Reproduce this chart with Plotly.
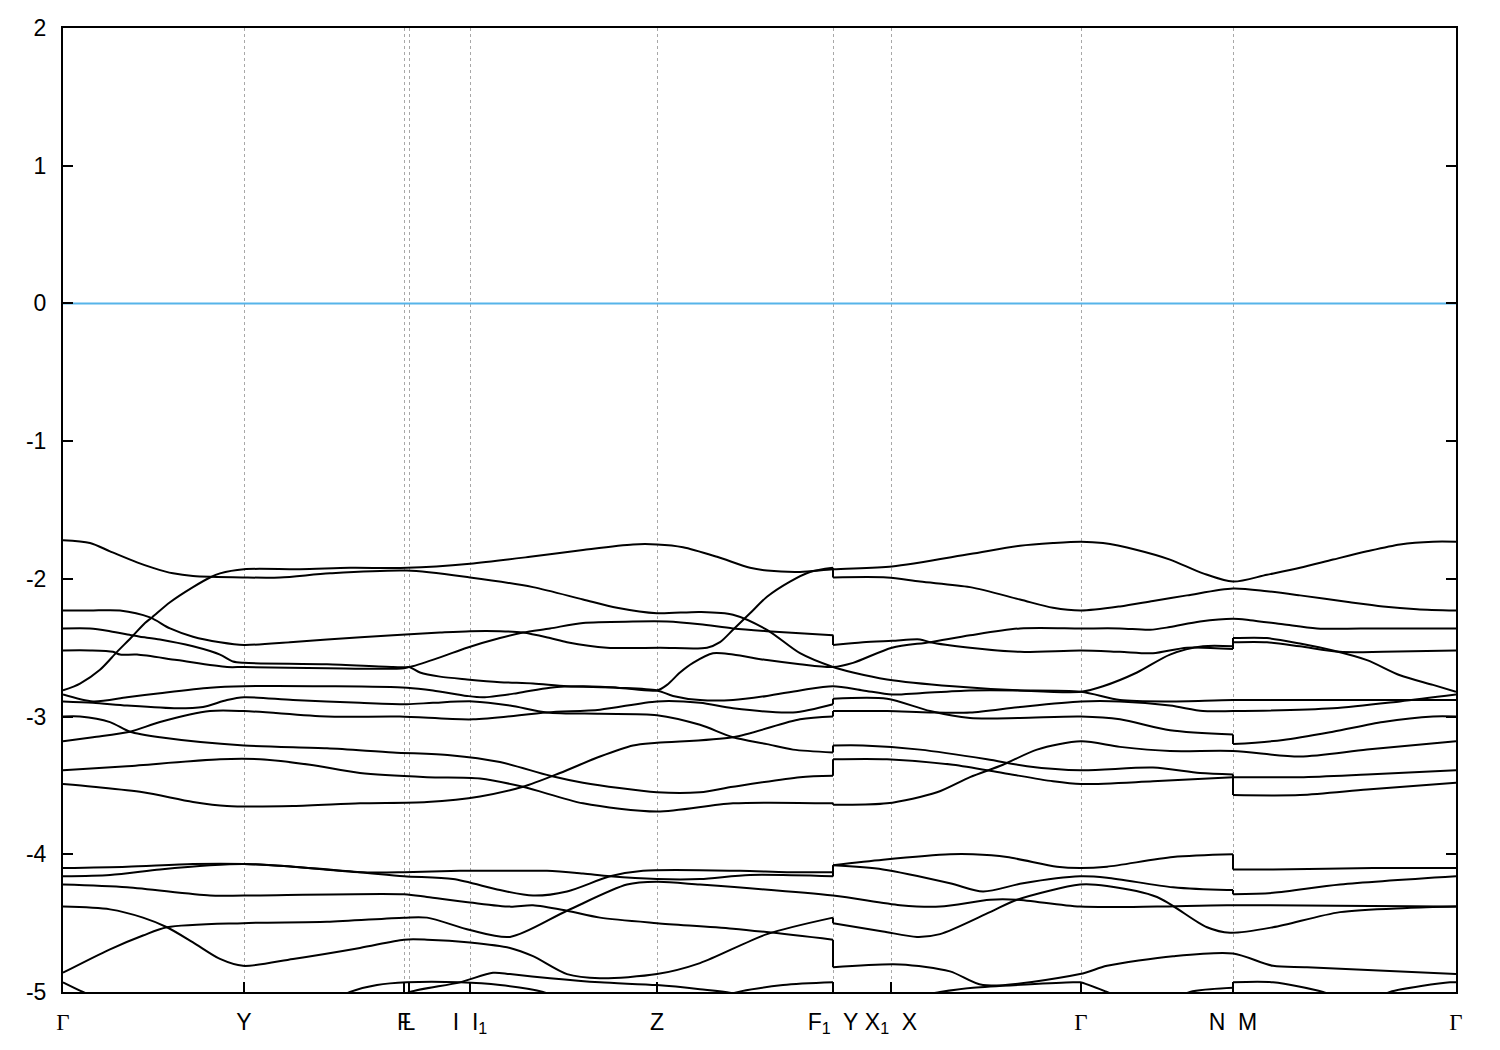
import plotly.graph_objects as go

# ---------------- k-path ticks ----------------
K_TICKS = [0.0, 1.81, 3.41, 3.46, 4.07, 5.94, 7.70, 8.28, 10.18, 11.70, 13.93]
GAMMA = '<span style="font-family:Liberation Serif">Γ</span>'
K_LABELS = [GAMMA, "Y", "F", "L", "I  I<sub>1</sub>", "Z", "F<sub>1</sub>  Y",
            "X<sub>1</sub>  X", GAMMA, "N  M", GAMMA]
E_TICKS = [-5, -4, -3, -2, -1, 0, 1, 2]
E_LABELS = ["-5", "-4", "-3", "-2", "-1", "0", "1", "2"]
FERMI = 0.0

# ---------------- bands (k, E in eV) ----------------
UA_K = [0, 0.27, 0.47, 0.74, 0.90, 1.10, 1.30, 1.81, 2.17, 2.67, 3.44, 4.07, 4.70, 5.20, 5.54, 5.94, 6.37, 6.70, 7.04, 7.37,
        7.70, 7.90, 8.24, 8.90, 9.57, 10.18, 10.40, 10.74, 11.07, 11.40, 11.70, 11.70, 12.04, 12.37, 12.70, 13.04, 13.37, 13.70, 13.93]
UA_E = [-1.72, -1.74, -1.80, -1.88, -1.92, -1.96, -1.98, -1.99, -1.99, -1.96, -1.94, -1.99, -2.06, -2.15, -2.21, -2.25, -2.24, -2.26, -2.37, -2.54,
        -2.64, -2.68, -2.73, -2.78, -2.81, -2.82, -2.78, -2.68, -2.55, -2.49, -2.49, -2.43, -2.43, -2.47, -2.52, -2.59, -2.70, -2.77, -2.82]

S_K = [0, 0.17, 0.37, 0.54, 0.69, 0.82, 0.89, 1.07, 1.30, 1.47, 1.57, 1.81, 2.37, 2.87, 3.44, 4.07, 4.67, 5.20, 5.70, 5.94,
       6.20, 6.54, 6.87, 7.04, 7.37, 7.70, 8.29, 9.07, 9.57, 9.90, 10.18, 10.40, 10.74, 11.07, 11.40, 11.70, 12.04, 12.37, 12.70, 13.04,
       13.37, 13.70, 13.93]
S_E = [-2.81, -2.76, -2.66, -2.53, -2.42, -2.32, -2.28, -2.17, -2.06, -1.99, -1.96, -1.93, -1.93, -1.92, -1.92, -1.89, -1.84, -1.79, -1.75, -1.75,
       -1.77, -1.84, -1.92, -1.94, -1.95, -1.93, -1.91, -1.82, -1.76, -1.74, -1.73, -1.74, -1.79, -1.86, -1.96, -2.02, -1.97, -1.92, -1.86, -1.80,
       -1.75, -1.73, -1.73]

U2_K = [0, 0.27, 0.57, 0.87, 1.07, 1.30, 1.57, 1.81, 2.27, 2.64, 3.30, 3.77, 4.07, 4.37, 4.60, 4.87, 5.04, 5.44, 5.97, 6.44,
        6.57, 6.70, 6.87, 7.04, 7.27, 7.47, 7.70, 7.70, 8.24, 8.57, 9.07, 9.57, 9.90, 10.18, 10.57, 10.90, 11.24, 11.70, 12.04, 12.37,
        12.87, 13.20, 13.54, 13.93]
U2_E = [-2.23, -2.23, -2.23, -2.28, -2.36, -2.42, -2.46, -2.48, -2.46, -2.44, -2.41, -2.39, -2.38, -2.38, -2.39, -2.43, -2.46, -2.50, -2.50, -2.50,
        -2.46, -2.37, -2.25, -2.13, -2.02, -1.95, -1.92, -1.99, -1.99, -2.02, -2.06, -2.15, -2.21, -2.23, -2.20, -2.16, -2.12, -2.07, -2.09, -2.12,
        -2.17, -2.20, -2.22, -2.23]

U3_K = [0, 0.27, 0.47, 0.69, 0.77, 0.97, 1.30, 1.57, 1.70, 1.81, 2.64, 3.30, 3.46, 3.77, 4.04, 4.37, 4.60, 4.87, 5.20, 5.70,
        6.04, 6.37, 6.70, 7.04, 7.70, 7.70, 8.00, 8.29, 8.57, 8.67, 9.07, 9.57, 10.18, 10.57, 10.90, 11.24, 11.70, 11.70, 12.04, 12.37,
        12.77, 13.20, 13.93]
U3_E = [-2.36, -2.36, -2.38, -2.41, -2.42, -2.44, -2.49, -2.55, -2.60, -2.61, -2.62, -2.64, -2.64, -2.57, -2.50, -2.43, -2.39, -2.36, -2.32, -2.31,
        -2.31, -2.33, -2.36, -2.38, -2.41, -2.48, -2.46, -2.45, -2.44, -2.46, -2.50, -2.53, -2.52, -2.53, -2.54, -2.50, -2.51, -2.46, -2.46, -2.49,
        -2.53, -2.53, -2.52]

U4_K = [0, 0.27, 0.50, 0.57, 0.74, 1.14, 1.64, 1.81, 2.64, 3.41, 3.46, 3.57, 3.77, 4.04, 4.37, 4.70, 5.04, 5.54, 5.94, 6.04,
        6.17, 6.30, 6.50, 6.70, 7.04, 7.37, 7.70, 7.90, 8.29, 8.67, 9.07, 9.57, 10.18, 10.57, 10.87, 11.07, 11.37, 11.70, 11.87, 12.20,
        12.54, 13.17, 13.93]
U4_E = [-2.52, -2.52, -2.53, -2.55, -2.55, -2.59, -2.64, -2.64, -2.65, -2.65, -2.64, -2.68, -2.71, -2.73, -2.75, -2.76, -2.78, -2.79, -2.81, -2.77,
        -2.68, -2.61, -2.54, -2.55, -2.59, -2.62, -2.64, -2.61, -2.50, -2.46, -2.41, -2.36, -2.36, -2.36, -2.37, -2.35, -2.31, -2.29, -2.30, -2.33,
        -2.36, -2.36, -2.36]

U5_K = [0, 0.30, 0.64, 0.97, 1.47, 1.81, 2.64, 3.44, 3.70, 4.04, 4.20, 4.54, 4.87, 5.20, 5.54, 5.94, 6.10, 6.37, 6.70, 7.04,
        7.37, 7.70, 8.00, 8.29, 8.57, 9.07, 9.57, 10.18, 10.57, 11.07, 11.70, 12.54, 13.93]
U5_E = [-2.84, -2.89, -2.86, -2.83, -2.79, -2.78, -2.78, -2.79, -2.81, -2.85, -2.86, -2.83, -2.79, -2.78, -2.79, -2.81, -2.85, -2.88, -2.88, -2.85,
        -2.81, -2.78, -2.81, -2.84, -2.83, -2.81, -2.81, -2.82, -2.88, -2.89, -2.88, -2.88, -2.88]

U6_K = [0, 0.30, 0.64, 1.14, 1.40, 1.64, 1.81, 2.30, 2.97, 3.44, 3.70, 4.10, 4.47, 4.84, 5.37, 5.94, 6.37, 6.70, 7.04, 7.30,
        7.70, 7.70, 8.00, 8.57, 9.24, 9.64, 10.18, 10.90, 11.37, 11.70, 11.70, 12.37, 13.04, 13.93]
U6_E = [-2.89, -2.90, -2.92, -2.94, -2.93, -2.88, -2.86, -2.88, -2.90, -2.91, -2.90, -2.89, -2.92, -2.97, -2.98, -2.99, -3.06, -3.15, -3.20, -3.24,
        -3.26, -3.21, -3.21, -3.24, -3.31, -3.36, -3.39, -3.37, -3.41, -3.42, -3.44, -3.44, -3.42, -3.39]

U7_K = [0, 0.17, 0.47, 0.67, 0.97, 1.81, 2.64, 3.30, 3.87, 4.37, 4.87, 5.20, 5.94, 6.37, 6.70, 7.37, 7.70, 7.70, 8.24, 8.90,
        9.40, 9.90, 10.18, 10.90, 11.70, 11.70, 12.37, 13.04, 13.93]
U7_E = [-3.00, -3.00, -3.04, -3.11, -3.15, -3.21, -3.23, -3.26, -3.28, -3.33, -3.43, -3.48, -3.55, -3.55, -3.51, -3.44, -3.43, -3.31, -3.31, -3.35,
        -3.41, -3.47, -3.49, -3.47, -3.44, -3.57, -3.57, -3.53, -3.48]

U8_K = [0, 0.30, 0.67, 0.97, 1.47, 1.81, 2.64, 3.37, 4.10, 4.84, 5.37, 5.94, 6.37, 6.70, 7.30, 7.70, 7.70, 8.24, 8.67, 9.07,
        9.57, 10.18, 10.57, 11.07, 11.70, 11.70, 12.20, 12.70, 13.20, 13.70, 13.93]
U8_E = [-3.18, -3.15, -3.11, -3.04, -2.96, -2.96, -3.00, -3.00, -3.02, -2.97, -2.95, -2.89, -2.90, -2.94, -2.97, -2.91, -2.87, -2.87, -2.96, -3.01,
        -3.01, -3.00, -3.02, -3.10, -3.13, -3.20, -3.17, -3.11, -3.04, -3.00, -3.00]

U9_K = [0, 0.64, 1.57, 1.97, 2.47, 2.97, 3.64, 4.17, 4.60, 5.20, 5.94, 6.70, 7.70, 7.70, 8.24, 8.74, 9.07, 9.40, 9.74, 10.18,
        10.57, 11.07, 11.70, 12.37, 13.04, 13.93]
U9_E = [-3.39, -3.36, -3.31, -3.31, -3.35, -3.41, -3.44, -3.45, -3.51, -3.63, -3.69, -3.63, -3.63, -3.64, -3.63, -3.55, -3.44, -3.35, -3.24, -3.18,
        -3.22, -3.25, -3.25, -3.29, -3.24, -3.18]

U10_K = [0, 0.30, 0.80, 1.30, 1.64, 2.30, 2.97, 3.64, 4.17, 4.60, 4.97, 5.37, 5.70, 5.94, 6.70, 7.37, 7.70, 7.70, 8.24, 8.67,
         9.07, 9.57, 10.18, 10.57, 11.07, 11.40, 11.70, 12.70, 13.37, 13.93]
U10_E = [-3.49, -3.51, -3.55, -3.62, -3.65, -3.65, -3.63, -3.62, -3.58, -3.51, -3.41, -3.29, -3.21, -3.19, -3.15, -3.02, -3.00, -2.96, -2.96, -2.97,
         -2.97, -2.93, -2.89, -2.89, -2.92, -2.96, -2.96, -2.94, -2.89, -2.84]

L1_K = [0, 0.64, 1.30, 1.81, 2.30, 2.97, 3.41, 3.97, 4.37, 4.84, 5.20, 5.47, 5.94, 6.37, 6.87, 7.70, 7.70, 8.20, 8.87, 9.20,
        9.60, 10.17, 10.44, 11.10, 11.64, 11.70, 11.70, 12.10, 12.77, 13.93]
L1_E = [-4.10, -4.09, -4.07, -4.07, -4.09, -4.13, -4.13, -4.12, -4.12, -4.12, -4.14, -4.16, -4.18, -4.18, -4.15, -4.16, -4.08, -4.11, -4.21, -4.27,
        -4.21, -4.16, -4.17, -4.24, -4.26, -4.26, -4.29, -4.28, -4.22, -4.16]

L2_K = [0, 0.47, 0.97, 1.47, 1.81, 2.30, 2.97, 3.41, 3.90, 4.37, 4.70, 5.04, 5.47, 5.80, 6.77, 7.24, 7.70, 7.70, 8.20, 8.87,
        9.10, 9.44, 9.94, 10.17, 10.44, 11.10, 11.70, 11.70, 12.10, 13.10, 13.93]
L2_E = [-4.16, -4.15, -4.11, -4.08, -4.07, -4.09, -4.13, -4.16, -4.18, -4.26, -4.30, -4.27, -4.16, -4.12, -4.12, -4.13, -4.13, -4.08, -4.04, -4.00,
        -4.00, -4.02, -4.09, -4.10, -4.09, -4.02, -4.00, -4.11, -4.11, -4.10, -4.10]

L3_K = [0, 0.64, 1.47, 1.81, 3.41, 3.64, 4.07, 4.47, 4.70, 5.04, 5.37, 5.94, 6.70, 7.70, 7.70, 8.37, 8.87, 9.20, 10.17, 10.44,
        11.10, 11.70, 12.10, 12.44, 13.93]
L3_E = [-4.22, -4.24, -4.30, -4.30, -4.29, -4.31, -4.35, -4.38, -4.37, -4.41, -4.46, -4.50, -4.54, -4.62, -4.82, -4.80, -4.85, -4.95, -4.87, -4.81,
        -4.74, -4.72, -4.81, -4.82, -4.87]

L4_K = [0, 0.47, 0.80, 1.04, 1.30, 1.57, 1.80, 2.30, 2.97, 3.41, 3.64, 4.07, 4.47, 4.70, 5.04, 5.37, 5.94, 6.37, 7.04, 7.70,
        7.70, 8.20, 8.54, 8.77, 9.27, 9.54, 10.17, 10.44, 10.94, 11.44, 11.67, 12.10, 12.77, 13.44, 13.93]
L4_E = [-4.38, -4.40, -4.46, -4.53, -4.64, -4.76, -4.81, -4.76, -4.68, -4.62, -4.62, -4.64, -4.68, -4.74, -4.87, -4.90, -4.87, -4.79, -4.58, -4.46,
        -4.50, -4.56, -4.60, -4.58, -4.42, -4.33, -4.22, -4.23, -4.31, -4.53, -4.57, -4.53, -4.42, -4.39, -4.38]

L5_K = [0, 0.47, 0.80, 1.04, 1.80, 2.64, 3.41, 3.64, 4.07, 4.47, 5.04, 5.64, 5.94, 6.37, 7.70, 8.37, 8.77, 9.27, 9.54, 10.17,
        10.94, 11.64, 13.93]
L5_E = [-4.86, -4.69, -4.59, -4.53, -4.50, -4.49, -4.46, -4.46, -4.55, -4.60, -4.41, -4.22, -4.20, -4.22, -4.30, -4.37, -4.38, -4.33, -4.33, -4.38,
        -4.38, -4.37, -4.38]

B1_K = [0, 0.20, 0.40]
B1_E = [-4.93, -5.00, -5.06]
B2_K = [2.70, 2.87, 3.14, 3.44, 3.97, 4.37, 4.80, 5.00]
B2_E = [-5.06, -5.00, -4.95, -4.93, -4.93, -4.95, -5.00, -5.06]
B3_K = [3.30, 3.47, 3.97, 4.30, 4.47, 4.87, 5.37, 5.94, 6.37, 6.70, 6.90]
B3_E = [-5.06, -5.00, -4.93, -4.86, -4.87, -4.90, -4.93, -4.95, -4.98, -5.01, -5.06]
B4_K = [6.60, 6.70, 7.20, 7.70, 7.70, 8.30, 8.77, 9.10, 10.10, 10.17, 10.44, 10.60]
B4_E = [-5.05, -5.01, -4.95, -4.93, -5.02, -5.06, -5.00, -4.97, -4.93, -4.93, -5.00, -5.05]
B5_K = [11.10, 11.27, 11.70, 11.70, 12.10, 12.60, 12.80]
B5_E = [-5.06, -5.00, -4.97, -4.93, -4.93, -5.00, -5.06]
B6_K = [13.10, 13.27, 13.87, 13.93]
B6_E = [-5.06, -5.00, -4.93, -4.93]

BANDS = [(UA_K, UA_E), (S_K, S_E), (U2_K, U2_E), (U3_K, U3_E), (U4_K, U4_E), (U5_K, U5_E),
         (U6_K, U6_E), (U7_K, U7_E), (U8_K, U8_E), (U9_K, U9_E), (U10_K, U10_E),
         (L1_K, L1_E), (L2_K, L2_E), (L3_K, L3_E), (L4_K, L4_E), (L5_K, L5_E),
         (B1_K, B1_E), (B2_K, B2_E), (B3_K, B3_E), (B4_K, B4_E), (B5_K, B5_E), (B6_K, B6_E)]

LINE_W = 2.0
fig = go.Figure()

# Fermi level
fig.add_trace(go.Scatter(x=[K_TICKS[0], K_TICKS[-1]], y=[FERMI, FERMI], mode="lines",
                         line=dict(color="#56b4e9", width=2), hoverinfo="skip", showlegend=False))

jx, jy = [], []
for bk, be in BANDS:
    assert len(bk) == len(be)
    seg_k, seg_e = [bk[0]], [be[0]]
    segs = []
    for i in range(1, len(bk)):
        if bk[i] == bk[i - 1]:
            segs.append((seg_k, seg_e))
            jx += [bk[i - 1], bk[i], None]
            jy += [be[i - 1], be[i], None]
            seg_k, seg_e = [bk[i]], [be[i]]
        else:
            seg_k.append(bk[i])
            seg_e.append(be[i])
    segs.append((seg_k, seg_e))
    for sk, se in segs:
        fig.add_trace(go.Scatter(x=sk, y=se, mode="lines",
                                 line=dict(color="black", width=LINE_W, shape="spline", smoothing=0.8),
                                 hoverinfo="skip", showlegend=False))

fig.add_trace(go.Scatter(x=jx, y=jy, mode="lines", line=dict(color="black", width=LINE_W),
                         hoverinfo="skip", showlegend=False))

FONT = dict(family="Liberation Sans, Arial, sans-serif", size=23, color="black")

# page body has an 8px margin; size the figure so the frame lands where it should
fig.update_layout(
    width=1492, height=1042,
    margin=dict(l=55, r=44, t=20, b=58, autoexpand=False),
    paper_bgcolor="white", plot_bgcolor="white",
    showlegend=False,
    font=FONT,
)
fig.update_xaxes(
    range=[K_TICKS[0], K_TICKS[-1]], tickmode="array", tickvals=K_TICKS, ticktext=K_LABELS,
    tickangle=0, automargin=False,
    ticks="inside", ticklen=10, tickwidth=1.5, tickcolor="black",
    showline=True, linecolor="black", linewidth=2, mirror=True,
    showgrid=True, gridcolor="#a8a8a8", gridwidth=1, griddash="3px,3px",
    zeroline=False, tickfont=FONT, ticklabelstandoff=8,
)
fig.update_yaxes(
    range=[-5, 2], tickmode="array", tickvals=E_TICKS, ticktext=E_LABELS,
    automargin=False,
    ticks="inside", ticklen=10, tickwidth=1.5, tickcolor="black",
    showline=True, linecolor="black", linewidth=2, mirror="ticks",
    showgrid=False, zeroline=False, tickfont=FONT, ticklabelstandoff=10,
)

fig.write_html("out.html")
